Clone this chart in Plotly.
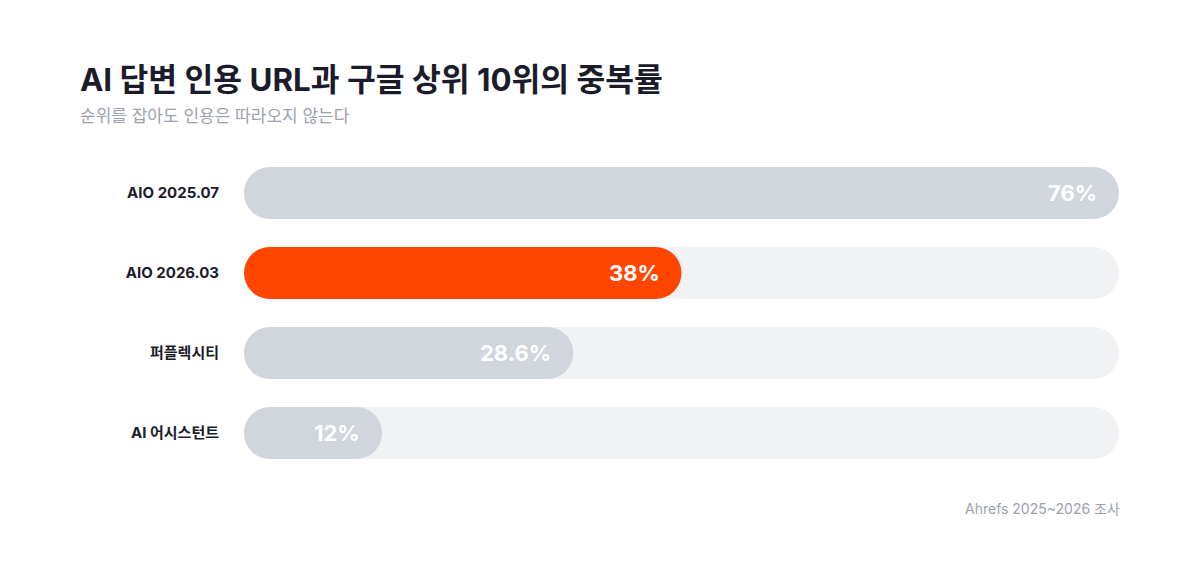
import plotly.graph_objects as go

categories = ["AIO 2025.07", "AIO 2026.03", "퍼플렉시티", "AI 어시스턴트"]
values = [76, 38, 28.6, 12]
value_labels = ["76%", "38%", "28.6%", "12%"]
highlight = [False, True, False, False]
track_max = 76

FONT = "Inter, 'Noto Sans CJK KR', sans-serif"
GRAY = "#D1D5DC"
ORANGE = "#FF4500"
TRACK = "#F1F2F4"
DARK = "#1B1B2B"
BAR_W = 0.65

fig = go.Figure()

def pill(vals, colors):
    # explicit base -> plotly rounds both ends of the bar
    fig.add_trace(go.Bar(
        y=categories, x=vals, base=[0] * len(vals), orientation="h",
        width=BAR_W, offset=-BAR_W / 2,
        marker=dict(color=colors, line=dict(width=0), cornerradius=26),
        hoverinfo="skip", showlegend=False,
    ))

pill([track_max] * len(categories), TRACK)
pill(values, [ORANGE if h else GRAY for h in highlight])

for c, v, t in zip(categories, values, value_labels):
    fig.add_annotation(x=v, y=c, xref="x", yref="y", text=f"<b>{t}</b>",
                       showarrow=False, xanchor="right", xshift=-20,
                       font=dict(family=FONT, size=22, color="white"))

fig.update_layout(
    width=1200, height=577,
    paper_bgcolor="white", plot_bgcolor="white",
    margin=dict(l=244, r=81, t=153, b=104),
    barmode="group",
    font=dict(family=FONT),
    xaxis=dict(range=[0, track_max], visible=False, fixedrange=True),
    yaxis=dict(categoryorder="array", categoryarray=categories, autorange="reversed",
               showgrid=False, zeroline=False, showline=False, ticks="",
               ticklabelstandoff=24,
               tickfont=dict(family=FONT, size=15, color=DARK, weight="bold")),
)

W, H, L, R, T, B = 1200, 577, 244, 81, 153, 104
pw, ph = W - L - R, H - T - B
def px(x): return (x - L) / pw
def py(y): return (H - B - y) / ph

fig.add_annotation(x=px(78), y=py(80), xref="paper", yref="paper", xanchor="left", yanchor="middle",
                   text="<b>AI 답변 인용 URL과 구글 상위 10위의 중복률</b>", showarrow=False,
                   font=dict(family=FONT, size=31.3, color=DARK))
fig.add_annotation(x=px(78), y=py(116), xref="paper", yref="paper", xanchor="left", yanchor="middle",
                   text="순위를 잡아도 인용은 따라오지 않는다", showarrow=False,
                   font=dict(family=FONT, size=17, color="#9CA1AC"))
fig.add_annotation(x=px(1122), y=py(508), xref="paper", yref="paper", xanchor="right", yanchor="middle",
                   text="Ahrefs 2025~2026 조사", showarrow=False,
                   font=dict(family=FONT, size=14, color="#9CA1AC"))

fig.write_html("out.html")
